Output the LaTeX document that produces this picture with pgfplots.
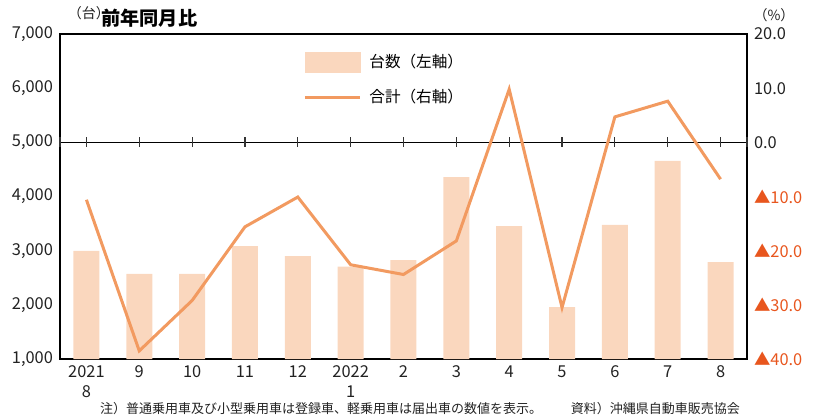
\documentclass[border=0pt]{standalone}
\usepackage{fontspec}
\setmainfont{Noto Sans CJK JP}
\usepackage{pgfplots}
\pgfplotsset{compat=1.18}
\definecolor{barc}{HTML}{FAD7BE}
\definecolor{linec}{HTML}{F29A60}
\definecolor{negc}{HTML}{E8561E}
\definecolor{txt}{HTML}{222222}

\pgfplotsset{
  base/.style={
    at={(30pt,30pt)}, anchor=south west, scale only axis,
    width=343.5pt, height=162.5pt,
    xmin=-0.5, xmax=12.5,
    major tick length=0,
    tick label style={font=\fontsize{8.2}{10}\selectfont, text=txt},
    /pgf/number format/assume math mode=true,
    axis line style={line width=1pt, black},
  },
}

\begin{document}
\begin{tikzpicture}
\useasboundingbox (0,0) rectangle (408pt,209.5pt);

% bars, left axis
\begin{axis}[base,
  ymin=1000, ymax=7000, ytick={1000,2000,...,7000},
  /pgf/number format/1000 sep={,},
  xtick={0,...,12},
  xticklabels={{2021\\8},9,10,11,12,{2022\\1},2,3,4,5,6,7,8},
  xticklabel style={align=center, font=\fontsize{8.2}{9.8}\selectfont},
]
\addplot[ybar, bar width=13pt, bar shift=0pt, fill=barc, draw=none] coordinates {
  (0,2995) (1,2570) (2,2570) (3,3085) (4,2900) (5,2705) (6,2825)
  (7,4360) (8,3455) (9,1960) (10,3475) (11,4660) (12,2790)};
\end{axis}

% line, right axis
\begin{axis}[base,
  ymin=-40, ymax=20, ytick={-40,-30,...,20},
  axis y line*=right, hide x axis,
  yticklabels={{\textcolor{negc}{▲40.0}},{\textcolor{negc}{▲30.0}},{\textcolor{negc}{▲20.0}},{\textcolor{negc}{▲10.0}},0.0,10.0,20.0},
  yticklabel style={anchor=west},
  legend style={at={(0.345,0.965)}, anchor=north west, draw=none, fill=none,
    font=\fontsize{7.8}{9}\selectfont, row sep=5.5pt, cells={anchor=west},
    /tikz/every odd column/.append style={column sep=2pt}},
]
\addplot[black, line width=0.5pt, mark=|, mark size=2.5pt,
  mark options={draw=black!80, line width=0.6pt}, forget plot] coordinates {
  (-0.5,0) (0,0) (1,0) (2,0) (3,0) (4,0) (5,0) (6,0) (7,0) (8,0) (9,0) (10,0) (11,0) (12,0) (12.5,0)};
\addlegendimage{legend image code/.code={\fill[barc] (0pt,-5pt) rectangle (27.5pt,5pt);}}
\addlegendentry{台数（左軸）}
\addplot[linec, line width=1.5pt, line join=miter,
  legend image code/.code={\draw[linec, line width=1.5pt] (0pt,0pt) -- (27.5pt,0pt);}]
  coordinates {
  (0,-10.6) (1,-38.5) (2,-29.2) (3,-15.6) (4,-10.1) (5,-22.6) (6,-24.4)
  (7,-18.2) (8,9.8) (9,-30.5) (10,4.7) (11,7.6) (12,-6.8)};
\addlegendentry{合計（右軸）}
\end{axis}

\node[font=\fontsize{7}{8}\selectfont, text=txt, inner sep=0pt] at (44.5pt,203pt) {（台）};
\node[font=\fontsize{9.6}{11}\bfseries, anchor=west, inner sep=0pt] at (50.5pt,200.5pt) {前年同月比};
\node[font=\fontsize{7}{8}\selectfont, text=txt, inner sep=0pt] at (387pt,202pt) {（\%）};
\node[font=\fontsize{6.5}{7.5}\selectfont, text=txt] at (210pt,5pt)
  {注）普通乗用車及び小型乗用車は登録車、軽乗用車は届出車の数値を表示。\hspace{2.2em}資料）沖縄県自動車販売協会};
\end{tikzpicture}
\end{document}
